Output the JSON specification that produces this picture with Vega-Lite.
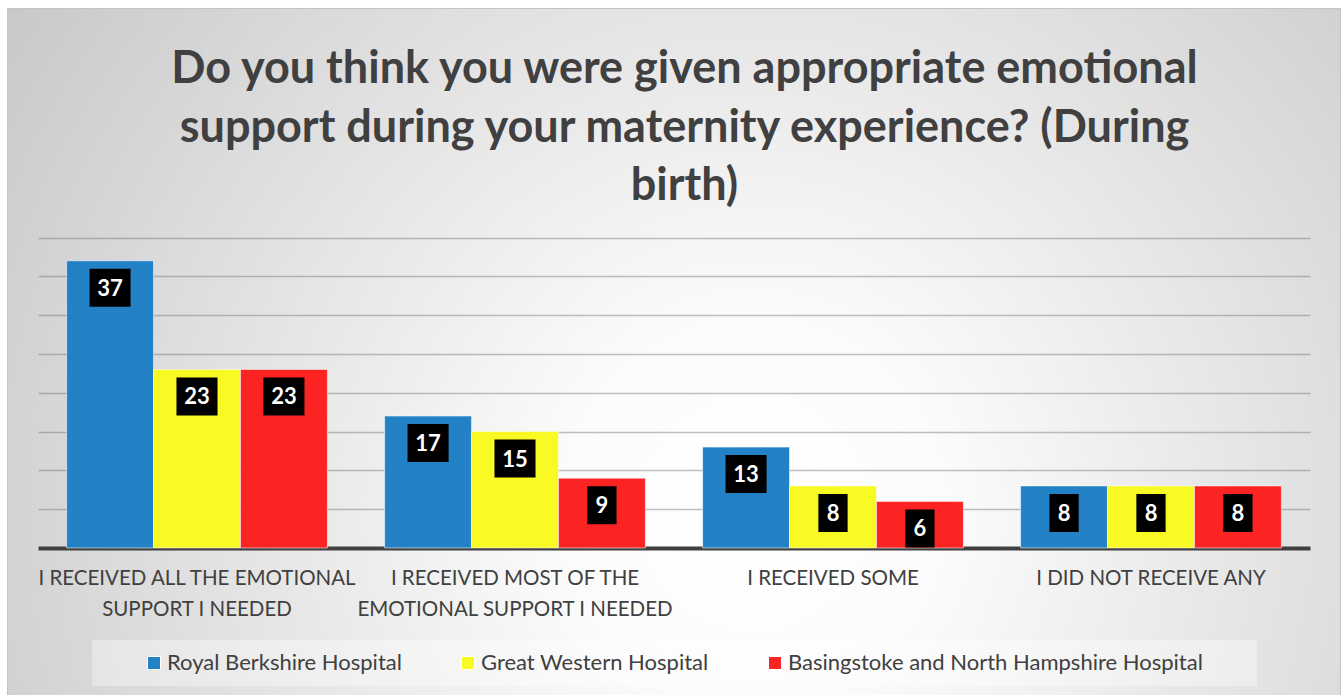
{
  "$schema": "https://vega.github.io/schema/vega-lite/v6.json",
  "autosize": {"type": "none"},
  "width": 1333,
  "height": 687,
  "padding": {"left": 7, "top": 8, "right": 3, "bottom": 0},
  "background": "#ffffff",
  "config": {
    "font": "Lato",
    "view": {
      "stroke": "#c4c4c4",
      "strokeWidth": 1,
      "fill": {
        "gradient": "radial",
        "x1": 0.56, "y1": 0.62, "r1": 0,
        "x2": 0.56, "y2": 0.62, "r2": 0.72,
        "stops": [
          {"offset": 0, "color": "#ffffff"},
          {"offset": 0.2, "color": "#fbfbfb"},
          {"offset": 1, "color": "#c4c4c4"}
        ]
      }
    }
  },
  "title": {
    "text": ["Do you think you were given appropriate emotional", "support during your maternity experience? (During", "birth)"],
    "orient": "top",
    "anchor": "middle",
    "offset": -201,
    "dx": 11,
    "font": "Lato",
    "fontSize": 45,
    "fontWeight": "bold",
    "color": "#404040",
    "lineHeight": 58.5
  },
  "data": {
    "values": [
      {"category": "I RECEIVED ALL THE EMOTIONAL SUPPORT I NEEDED", "hospital": "Royal Berkshire Hospital", "value": 37},
      {"category": "I RECEIVED ALL THE EMOTIONAL SUPPORT I NEEDED", "hospital": "Great Western Hospital", "value": 23},
      {"category": "I RECEIVED ALL THE EMOTIONAL SUPPORT I NEEDED", "hospital": "Basingstoke and North Hampshire Hospital", "value": 23},
      {"category": "I RECEIVED MOST OF THE EMOTIONAL SUPPORT I NEEDED", "hospital": "Royal Berkshire Hospital", "value": 17},
      {"category": "I RECEIVED MOST OF THE EMOTIONAL SUPPORT I NEEDED", "hospital": "Great Western Hospital", "value": 15},
      {"category": "I RECEIVED MOST OF THE EMOTIONAL SUPPORT I NEEDED", "hospital": "Basingstoke and North Hampshire Hospital", "value": 9},
      {"category": "I RECEIVED SOME", "hospital": "Royal Berkshire Hospital", "value": 13},
      {"category": "I RECEIVED SOME", "hospital": "Great Western Hospital", "value": 8},
      {"category": "I RECEIVED SOME", "hospital": "Basingstoke and North Hampshire Hospital", "value": 6},
      {"category": "I DID NOT RECEIVE ANY", "hospital": "Royal Berkshire Hospital", "value": 8},
      {"category": "I DID NOT RECEIVE ANY", "hospital": "Great Western Hospital", "value": 8},
      {"category": "I DID NOT RECEIVE ANY", "hospital": "Basingstoke and North Hampshire Hospital", "value": 8}
    ]
  },
  "encoding": {
    "x": {
      "field": "category",
      "type": "nominal",
      "sort": null,
      "scale": {"range": [31, 1303], "paddingInner": 0.18, "paddingOuter": 0.09},
      "axis": {
        "title": null,
        "orient": "bottom",
        "offset": -147,
        "labelAngle": 0,
        "ticks": false,
        "domainColor": "#404040",
        "domainWidth": 4,
        "labelFont": "Lato",
        "labelFontSize": 20.5,
        "labelColor": "#404040",
        "labelLineHeight": 31,
        "labelPadding": 20,
        "labelLimit": 400,
        "labelBaseline": "top",
        "labelExpr": "datum.value == 'I RECEIVED ALL THE EMOTIONAL SUPPORT I NEEDED' ? ['I RECEIVED ALL THE EMOTIONAL', 'SUPPORT I NEEDED'] : datum.value == 'I RECEIVED MOST OF THE EMOTIONAL SUPPORT I NEEDED' ? ['I RECEIVED MOST OF THE', 'EMOTIONAL SUPPORT I NEEDED'] : datum.value"
      }
    },
    "xOffset": {
      "field": "hospital",
      "type": "nominal",
      "sort": ["Royal Berkshire Hospital", "Great Western Hospital", "Basingstoke and North Hampshire Hospital"]
    },
    "y": {
      "field": "value",
      "type": "quantitative",
      "scale": {"domain": [-18.94, 69.57], "nice": false, "zero": false},
      "axis": {
        "title": null,
        "labels": false,
        "ticks": false,
        "domain": false,
        "grid": true,
        "values": [5, 10, 15, 20, 25, 30, 35, 40],
        "gridColor": "#737373",
        "gridOpacity": 0.45,
        "gridWidth": 1.5
      }
    }
  },
  "layer": [
    {
      "mark": {"type": "bar", "stroke": "#ffffff", "strokeOpacity": 0.55, "strokeWidth": 1},
      "encoding": {
        "y2": {"datum": 0},
        "color": {
          "field": "hospital",
          "type": "nominal",
          "scale": {
            "domain": ["Royal Berkshire Hospital", "Great Western Hospital", "Basingstoke and North Hampshire Hospital"],
            "range": ["#2381c6", "#f9f923", "#fc2323"]
          },
          "legend": {
            "title": " ",
            "titleOrient": "right",
            "titlePadding": 42,
            "titleFontSize": 20,
            "orient": "none",
            "legendX": 85,
            "legendY": 632,
            "direction": "horizontal",
            "fillColor": "rgba(255,255,255,0.35)",
            "padding": 12,
            "symbolType": "square",
            "symbolSize": 169,
            "symbolStrokeColor": "#ffffff",
            "symbolStrokeWidth": 1,
            "symbolOffset": 39,
            "labelOffset": 2,
            "columnPadding": 16,
            "labelFont": "Lato",
            "labelFontSize": 22,
            "labelColor": "#404040",
            "labelLimit": 500
          }
        }
      }
    },
    {
      "mark": {"type": "point", "filled": true, "color": "#000000", "opacity": 1, "size": 1444, "yOffset": 27},
      "encoding": {
        "shape": {
          "condition": {"test": "datum.value >= 10", "value": "M-1.08,-1H1.08V1H-1.08Z"},
          "value": "M-0.77,-1H0.77V1H-0.77Z"
        }
      }
    },
    {
      "mark": {"type": "text", "color": "#ffffff", "font": "Lato", "fontSize": 22, "fontWeight": "bold", "baseline": "middle", "align": "center", "yOffset": 28},
      "encoding": {
        "text": {"field": "value", "type": "quantitative"}
      }
    }
  ]
}
